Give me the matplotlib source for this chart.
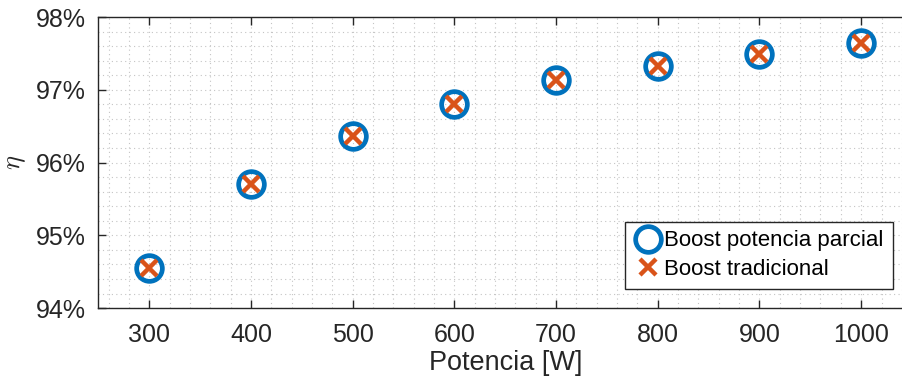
import numpy as np
import matplotlib.pyplot as plt
from matplotlib.ticker import MultipleLocator, FuncFormatter

plt.rcParams['font.family'] = ['Liberation Sans', 'DejaVu Sans']
plt.rcParams['mathtext.fontset'] = 'cm'

# datos
potencia = [300, 400, 500, 600, 700, 800, 900, 1000]
eta_parcial = [94.55, 95.71, 96.37, 96.81, 97.13, 97.33, 97.49, 97.64]
eta_trad = [94.55, 95.71, 96.37, 96.81, 97.13, 97.33, 97.49, 97.64]

fig = plt.figure(figsize=(9.03, 3.87), dpi=100)
# los ejes se salen un poco por la derecha, como en la figura original
ax = fig.add_axes([0.109, 0.204, 0.901, 0.752])

col_txt = '#262626'

ax.plot(potencia, eta_parcial, 'o', ms=18.5, mfc='none', mec='#0072BD', mew=3.4,
        linestyle='none', label='Boost potencia parcial', zorder=3)
ax.plot(potencia, eta_trad, 'x', ms=11, mec='#D95319', mew=3.2,
        linestyle='none', label='Boost tradicional', zorder=4)

ax.set_xlim(250, 1050)
ax.set_ylim(94, 98)
ax.xaxis.set_major_locator(MultipleLocator(100))
ax.xaxis.set_minor_locator(MultipleLocator(20))
ax.yaxis.set_major_locator(MultipleLocator(1))
ax.yaxis.set_minor_locator(MultipleLocator(0.2))
ax.yaxis.set_major_formatter(FuncFormatter(lambda v, p: f"{v:.0f}%"))
ax.set_xticks([300, 400, 500, 600, 700, 800, 900, 1000])

# grid estilo matlab
ax.grid(True, which='both', color='#c4c4c4', linestyle=(0, (1, 3)), linewidth=0.8)
ax.set_axisbelow(True)

ax.tick_params(which='major', direction='in', length=6, width=1, top=True, right=True,
               labelsize=18, colors=col_txt, pad=9)
ax.tick_params(axis='x', which='major', pad=11)
ax.tick_params(which='minor', length=0, top=True, right=True)
for s in ax.spines.values():
    s.set_color(col_txt)
    s.set_linewidth(1)

ax.set_xlabel('Potencia [W]', fontsize=19.5, color=col_txt, labelpad=2)
ax.set_ylabel(r'$\eta$', fontsize=19, color=col_txt, labelpad=6)

leg = ax.legend(loc='lower right', bbox_to_anchor=(0.976, 0.065), fontsize=16,
                frameon=True, fancybox=False, handletextpad=0.15, handlelength=1.2,
                borderpad=0.4, labelspacing=0.35, borderaxespad=0)
leg.get_frame().set_edgecolor(col_txt)
leg.get_frame().set_linewidth(1)
leg.get_frame().set_alpha(1)

fig.savefig('out.png', dpi=100)
